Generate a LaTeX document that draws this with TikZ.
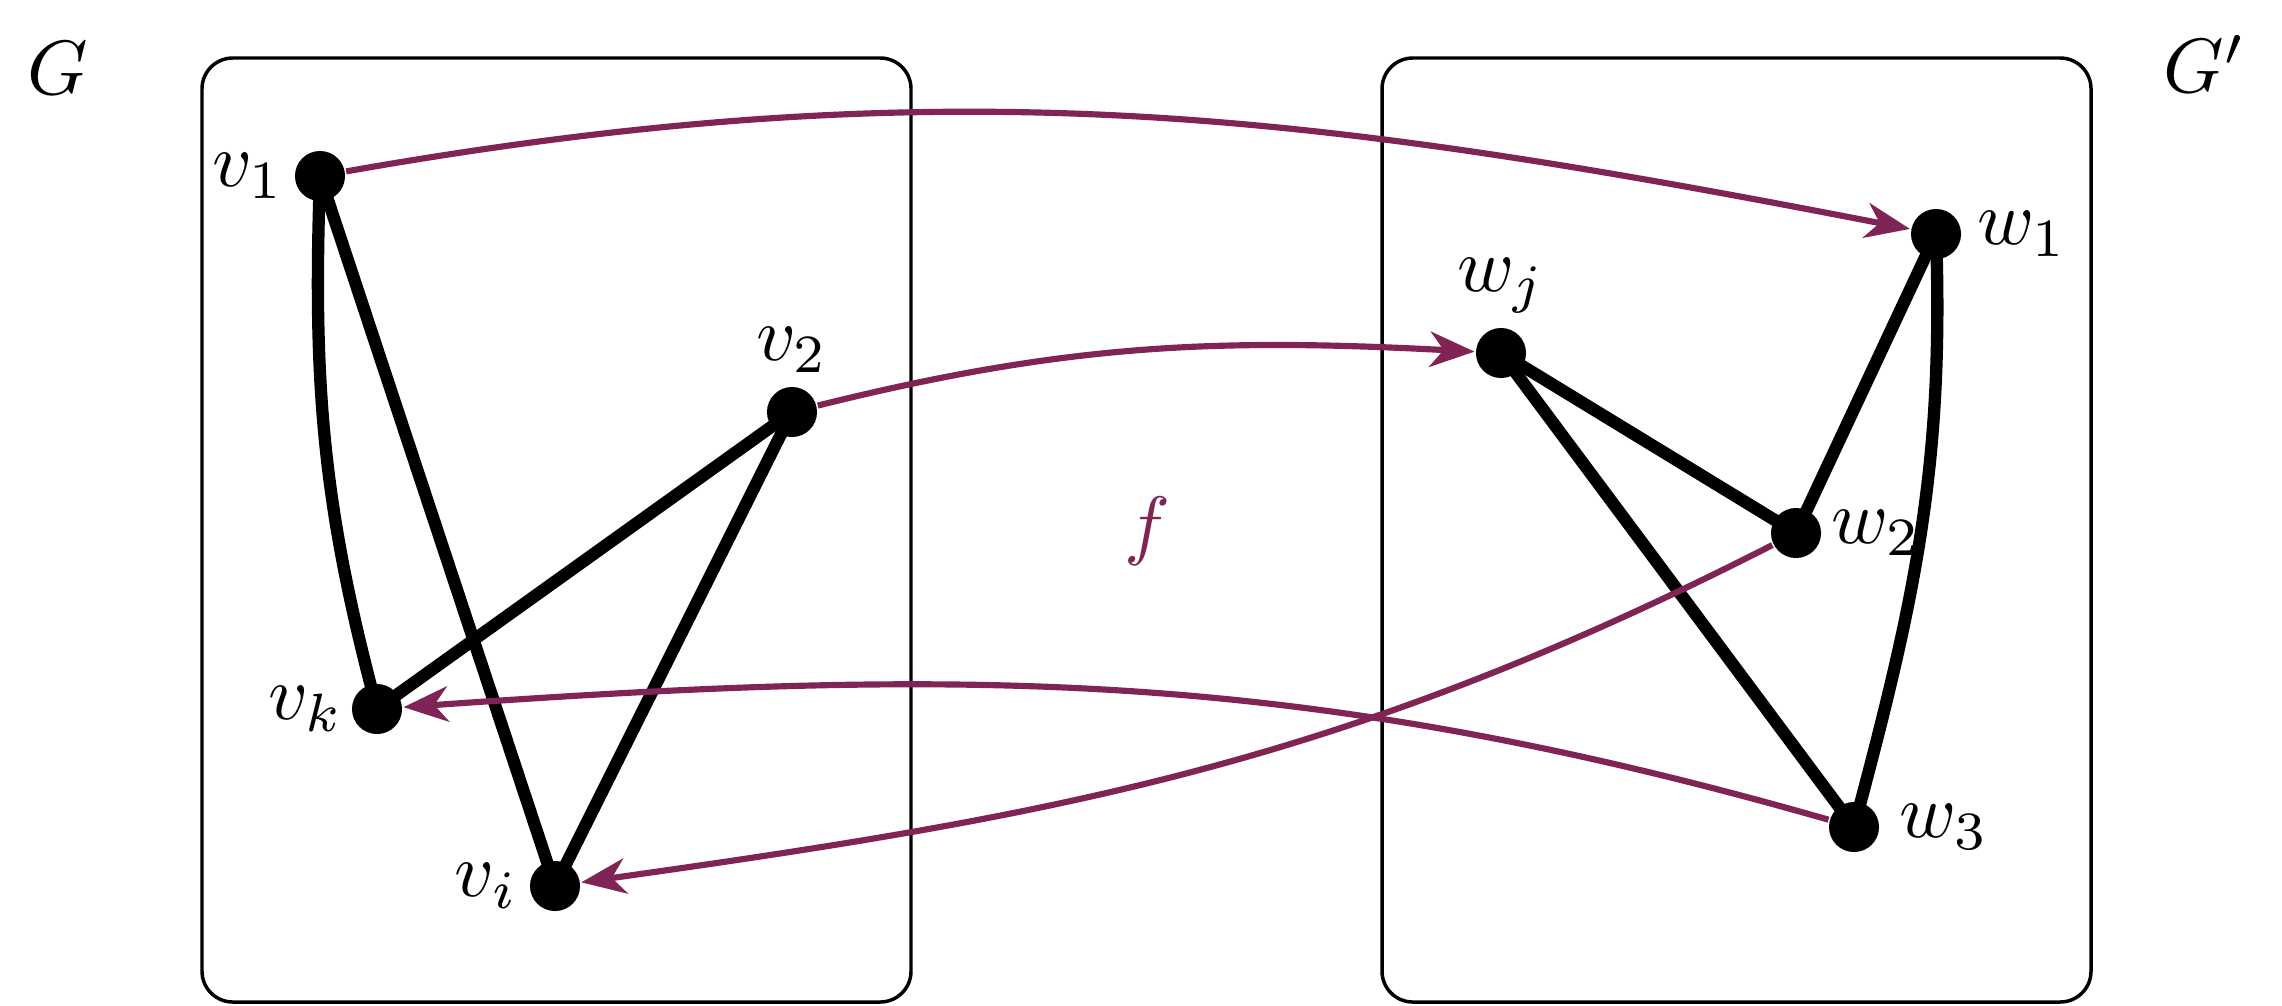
\documentclass[tikz,border=0pt]{standalone}
\usetikzlibrary{arrows.meta,backgrounds}
\definecolor{fcol}{RGB}{128,35,85}
\begin{document}
\begin{tikzpicture}[x=0.12987pt,y=-0.12987pt,
  vert/.style={circle,fill=black,inner sep=0pt,minimum size=6.5pt},
  edge/.style={line width=1.6pt},
  maparrow/.style={draw=fcol,line width=0.8pt,-{Stealth[length=5.8pt,width=4.6pt,inset=1.8pt]}},
  gbox/.style={draw,line width=0.45pt,rounded corners=4pt},
  lbl/.style={inner sep=1pt}]
\useasboundingbox (0,0) rectangle (2282,1005);
% boxes
\draw[gbox] (202,58) rectangle (911,1002);
\draw[gbox] (1382,58) rectangle (2091,1002);
% graph names
\node (G) at (58,68) {$G$};
\node (Gp) at (2205,64) {$G'$};
\node[text=fcol] (f) at (1147,531) {$f$};
% vertices of G
\node[vert,label={[lbl,label distance=0pt]left:$v_1$}] (v1) at (320,176) {};
\node[vert,label={[lbl,label distance=0.5pt]above:$v_2$}] (v2) at (792,412) {};
\node[vert,label={[lbl,label distance=-0.3pt]left:$v_k$}] (vk) at (377,709) {};
\node[vert,label={[lbl,label distance=0.2pt]left:$v_i$}] (vi) at (555,886) {};
% vertices of G'
\node[vert,label={[lbl,label distance=0.7pt]right:$w_1$}] (w1) at (1936,234) {};
\node[vert,label={[lbl,label distance=0.5pt]above:$w_j$}] (wj) at (1501,353) {};
\node[vert,label={[lbl,label distance=0pt]right:$w_2$}] (w2) at (1796,533) {};
\node[vert,label={[lbl,label distance=1.2pt]right:$w_3$}] (w3) at (1854,827) {};
\begin{pgfonlayer}{background}
% edges of G
\draw[edge] (v1.center) to[out=-92,in=105] (vk.center);
\draw[edge] (v1.center) -- (vi.center);
\draw[edge] (v2.center) -- (vk.center);
\draw[edge] (v2.center) -- (vi.center);
% edges of G'
\draw[edge] (w1.center) to[out=-88,in=75] (w3.center);
\draw[edge] (w1.center) -- (w2.center);
\draw[edge] (wj.center) -- (w2.center);
\draw[edge] (wj.center) -- (w3.center);
\end{pgfonlayer}
% the map f
\draw[maparrow] (v1) to[out=10,in=169] (w1);
\draw[maparrow] (v2) to[out=14,in=177] (wj);
\draw[maparrow] (w2) to[out=207,in=8] (vi);
\draw[maparrow] (w3) to[out=164,in=4] (vk);
\end{tikzpicture}
\end{document}
